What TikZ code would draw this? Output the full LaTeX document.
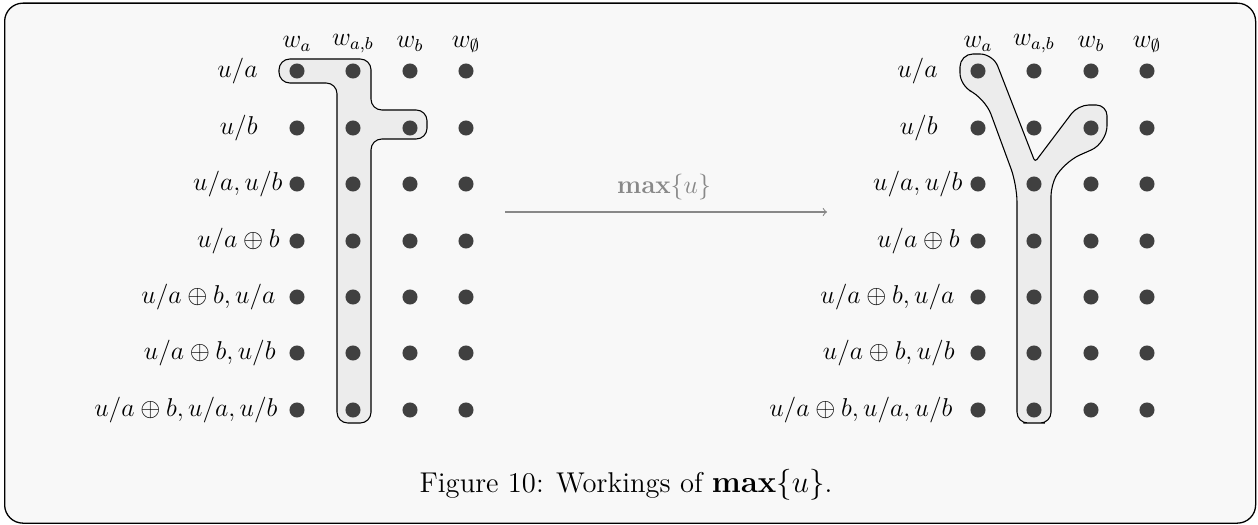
\documentclass[tikz,border=0pt]{standalone}
\usepackage{amsmath,amssymb}
\definecolor{bgc}{HTML}{F8F8F8}
\definecolor{dotc}{HTML}{404040}
\definecolor{blobc}{HTML}{ECECEC}
\definecolor{arrc}{HTML}{888888}
\tikzset{
  dotn/.style={circle,fill=dotc,inner sep=0pt,minimum size=7pt},
  txt/.style={font=\fontsize{11.5}{14}\selectfont},
  rowlab/.style={txt,anchor=east,inner sep=0pt},
  colhead/.style={txt,inner sep=0pt},
  blob/.style={fill=blobc,draw=black,line width=0.5pt},
  frame/.style={fill=bgc,draw=black,line width=0.6pt,rounded corners=8.5pt},
}
\begin{document}
\begin{tikzpicture}[x=0.465pt,y=-0.465pt]
\useasboundingbox (0,0) rectangle (1258,525);
\node[frame,minimum width=1251*0.465pt,minimum height=520*0.465pt,anchor=north west,inner sep=0pt] (fr) at (4,2.5) {};
% blobs
\draw[blob,rounded corners=5pt] (320,59) -- (371,59) -- (371,110) -- (427,110) -- (427,139) -- (371,139) -- (371,423) -- (337,423) -- (337,83) -- (279,83) -- (279,59) -- cycle;
\draw[blob,rounded corners=5pt] (1034,423) -- (1051,423) -- (1051,185) [rounded corners=8pt] -- (1064,162) -- (1107,143) [rounded corners=5pt] -- (1107,105) -- (1078,105) [rounded corners=1.5pt] -- (1035,162) [rounded corners=6pt] -- (993,54) -- (960,54) -- (960,86) [rounded corners=8pt] -- (985,98) -- (1017,185) [rounded corners=5pt] -- (1017,423) -- cycle;
% dots
\foreach \r/\y in {1/71,2/128,3/184,4/241,5/297,6/353,7/410}{
  \foreach \c/\x in {1/297,2/353,3/410,4/466}{
    \node[dotn] (L-\r-\c) at (\x,\y) {};
    \node[dotn] (R-\r-\c) at (\x+681,\y) {};
  }
}
% headers
\foreach \c/\x/\t in {1/297/{w_a},2/353/{w_{a,b}},3/410/{w_b},4/466/{w_\emptyset}}{
  \node[colhead] (LH-\c) at (\x,44) {$\t$};
  \node[colhead] (RH-\c) at (\x+681,44) {$\t$};
}
% row labels
\foreach \r/\y/\xl/\xr/\t in {1/71/258/938/{u/a},2/128/258/938/{u/b},3/184/283/963/{u/a,u/b},4/241/280/960/{u/a\oplus b},5/297/276/955/{u/a\oplus b,u/a},6/353/276/955/{u/a\oplus b,u/b},7/410/278/953/{u/a\oplus b,u/a,u/b}}{
  \node[rowlab] (LR-\r) at (\xl,\y) {$\t$};
  \node[rowlab] (RR-\r) at (\xr,\y) {$\t$};
}
% arrow
\coordinate (as) at (505,212);
\coordinate (ae) at (827,212);
\draw[arrc,line width=0.5pt,->] (as) -- (ae);
\node[txt,text=arrc] (al) at (664,187) {$\mathbf{max}\{u\}$};
% caption
\node[font=\fontsize{13.3}{16}\selectfont] (cap) at (626,485) {Figure 10: Workings of $\mathbf{max}\{u\}$.};
\end{tikzpicture}
\end{document}
